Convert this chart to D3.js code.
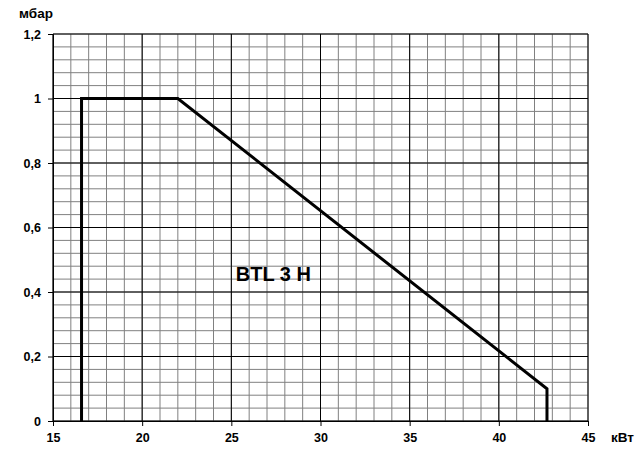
<!DOCTYPE html>
<html lang="ru">
<head>
  <meta charset="UTF-8">
  <title>BTL 3 H</title>
  <script src="https://d3js.org/d3.v7.min.js"></script>
  <style>
    body { margin: 0; background: #fff; }
    text { font-family: Arial, "Liberation Sans", sans-serif; font-weight: bold; }
  </style>
</head>
<body>
  <div id="viz"></div>

  <script>
    // Data
    const powerKW = [16.6, 16.6, 22, 42.7, 42.7];
    const pressureMbar = [0, 1, 1, 0.1, 0];
    const xTicks = [15, 20, 25, 30, 35, 40, 45];
    const yTicks = [0, 0.2, 0.4, 0.6, 0.8, 1, 1.2];
    const modelLabel = "BTL 3 H";

    const actualWidth = 640, actualHeight = 457;
    const margin = { top: 34, right: 52, bottom: 36, left: 53 },
          width = actualWidth - margin.left - margin.right,
          height = actualHeight - margin.top - margin.bottom;

    const svg = d3.select('#viz')
      .append('svg')
        .attr('width', actualWidth)
        .attr('height', actualHeight)
      .append('g')
        .attr('transform', `translate(${margin.left}, ${margin.top})`);

    const x = d3.scaleLinear().domain([15, 45]).range([0, width]);
    const y = d3.scaleLinear().domain([0, 1.2]).range([height, 0]);

    // minor grid: every 1 kW and every 0.04 mbar
    const minorX = d3.range(15, 45.01, 1);
    const minorY = d3.range(0, 31).map(i => i * 0.04);

    svg.append('g').selectAll('line')
      .data(minorX)
      .enter().append('line')
        .attr('x1', d => x(d)).attr('x2', d => x(d))
        .attr('y1', 0).attr('y2', height)
        .attr('stroke', '#808080');
    svg.append('g').selectAll('line')
      .data(minorY)
      .enter().append('line')
        .attr('x1', 0).attr('x2', width)
        .attr('y1', d => y(d)).attr('y2', d => y(d))
        .attr('stroke', '#808080');

    // major grid
    svg.append('g').selectAll('line')
      .data(xTicks)
      .enter().append('line')
        .attr('x1', d => x(d)).attr('x2', d => x(d))
        .attr('y1', 0).attr('y2', height)
        .attr('stroke', '#000');
    svg.append('g').selectAll('line')
      .data(yTicks)
      .enter().append('line')
        .attr('x1', 0).attr('x2', width)
        .attr('y1', d => y(d)).attr('y2', d => y(d))
        .attr('stroke', '#000');

    const fmt = d => String(d).replace('.', ',');

    const xAxis = svg.append('g')
      .attr('transform', `translate(0, ${height})`)
      .call(d3.axisBottom(x).tickValues(xTicks).tickFormat(fmt).tickSize(5).tickPadding(7));
    const yAxis = svg.append('g')
      .call(d3.axisLeft(y).tickValues(yTicks).tickFormat(fmt).tickSize(5).tickPadding(7));

    [xAxis, yAxis].forEach(a => {
      a.select('.domain').attr('stroke', '#000');
      a.selectAll('.tick line').attr('stroke', '#000');
      a.selectAll('.tick text')
        .attr('fill', '#000')
        .style('font-size', '12.5px')
        .style('font-family', 'Arial, "Liberation Sans", sans-serif')
        .style('font-weight', 'bold');
    });

    // operating range
    const pts = powerKW.map((p, i) => [p, pressureMbar[i]]);
    svg.append('path')
      .datum(pts)
      .attr('d', d3.line().x(d => x(d[0])).y(d => y(d[1])))
      .attr('fill', 'none')
      .attr('stroke', '#000')
      .attr('stroke-width', 3)
      .attr('stroke-linejoin', 'miter');

    svg.append('text')
      .attr('x', x(25.25))
      .attr('y', y(0.434))
      .style('font-size', '20px')
      .text(modelLabel);

    // axis titles
    svg.append('text')
      .attr('x', -34)
      .attr('y', -16)
      .style('font-size', '13.5px')
      .text('мбар');
    svg.append('text')
      .attr('x', width + 23)
      .attr('y', height + 21)
      .style('font-size', '13.5px')
      .text('кВт');
  </script>
</body>
</html>
